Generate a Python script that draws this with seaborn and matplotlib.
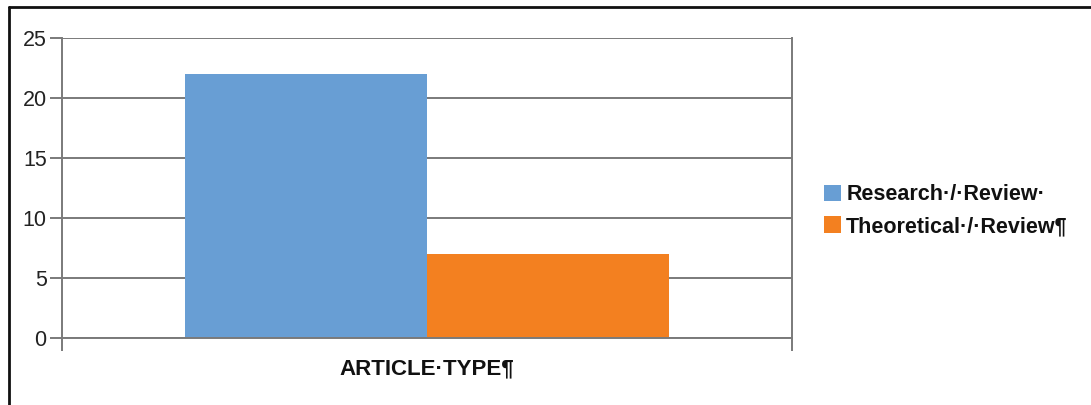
import matplotlib
matplotlib.use("Agg")
import matplotlib.pyplot as plt
import matplotlib.lines as mlines
import seaborn as sns
import pandas as pd

# Data
categories = ["ARTICLE\u00b7TYPE\u00b6"]
series = ["Research\u00b7/\u00b7Review\u00b7", "Theoretical\u00b7/\u00b7Review\u00b6"]
counts = [22, 7]
colors = ["#689ED4", "#F38020"]

df = pd.DataFrame({"category": categories * len(series),
                   "type": series,
                   "count": counts})

sns.set_theme(style="white")
plt.rcParams["font.family"] = ["Liberation Sans", "DejaVu Sans"]

fig = plt.figure(figsize=(10.91, 4.05), dpi=100)
ax = fig.add_axes([62 / 1091, 67 / 405, 730 / 1091, 300 / 405])

sns.barplot(data=df, x="category", y="count", hue="type", palette=colors,
            width=0.663, gap=0, saturation=1, edgecolor="none", ax=ax)

ax.set_ylim(0, 25)
ax.set_xlim(-0.5, 0.5)
ax.set_yticks([0, 5, 10, 15, 20, 25])
ax.yaxis.grid(True, color="#7a7a7a", linewidth=1.4)
ax.set_axisbelow(True)
ax.set_xlabel("")
ax.set_ylabel("")

for side in ["left", "right", "bottom"]:
    ax.spines[side].set_color("#7a7a7a")
    ax.spines[side].set_linewidth(1.4)
ax.spines["top"].set_visible(False)

ax.tick_params(axis="y", length=9, width=1.4, color="#7a7a7a", pad=2,
               labelsize=15.5, labelcolor="#222222", left=True)
ax.set_xticks([0])
ax.set_xticklabels(categories, fontsize=16, fontweight="bold", color="#111111")
ax.tick_params(axis="x", length=0, pad=15)
ax.set_xticks([-0.5, 0.5], minor=True)
ax.tick_params(axis="x", which="minor", length=9, width=1.4, color="#7a7a7a",
               bottom=True)

leg = ax.legend(loc="center left", bbox_to_anchor=(815 / 1091, 0.48),
                bbox_transform=fig.transFigure, frameon=False,
                prop={"size": 15.5, "weight": "bold"}, handlelength=0.8,
                handleheight=0.8, handletextpad=0.25, labelspacing=0.5,
                borderaxespad=0)
for t in leg.get_texts():
    t.set_color("#111111")

# outer frame (only top and left edges visible in the reference)
fig.add_artist(mlines.Line2D([8.5 / 1091, 1.0], [1 - 6.5 / 405, 1 - 6.5 / 405],
                             transform=fig.transFigure, color="#111111", linewidth=2))
fig.add_artist(mlines.Line2D([8.5 / 1091, 8.5 / 1091], [0.0, 1 - 6.5 / 405],
                             transform=fig.transFigure, color="#111111", linewidth=2))

fig.savefig("out.png", dpi=100)
